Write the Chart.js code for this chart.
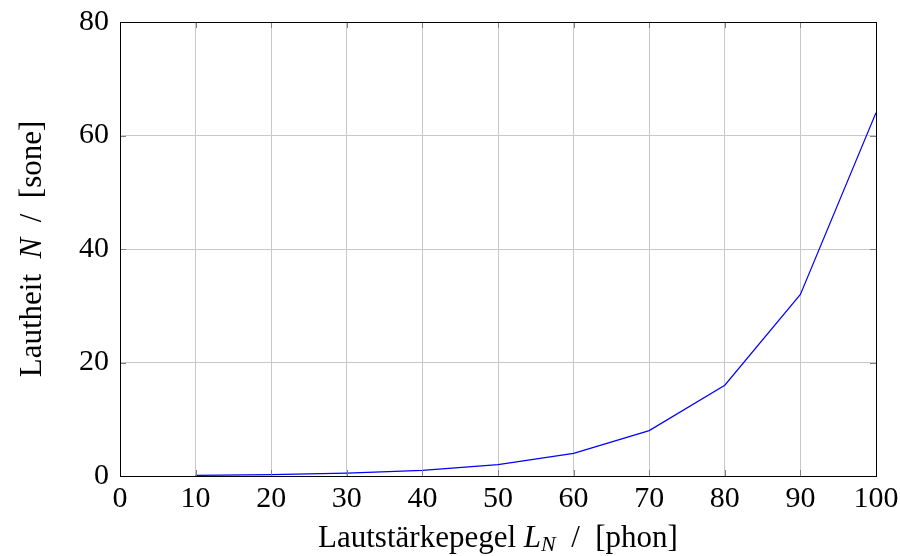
<!DOCTYPE html>
<html>
<head>
<meta charset="utf-8">
<script src="https://cdn.jsdelivr.net/npm/chart.js@4/dist/chart.umd.min.js"></script>
<style>
  html, body { margin: 0; padding: 0; background: #fff; }
  #wrap { width: 900px; height: 556px; }
</style>
</head>
<body>
<div id="wrap"><canvas id="lautheitChart" width="900" height="556"></canvas></div>
<script>
// Lautstärkepegel in phon und zugehörige Lautheit in sone
const phon = [10, 20, 30, 40, 50, 60, 70, 80, 90, 100];
const sone = [0.125, 0.25, 0.5, 1, 2, 4, 8, 16, 32, 64];
const xTicks = [0, 10, 20, 30, 40, 50, 60, 70, 80, 90, 100];
const yTicks = [0, 20, 40, 60, 80];

const FONT = '"Liberation Serif", "DejaVu Serif", serif';
const TITLE_SIZE = 31;

// Achsentitel mit kursiven Formelzeichen (N, L_N)
function drawParts(ctx, parts, x, y) {
    let total = 0;
    parts.forEach(p => {
        ctx.font = p.font;
        p.w = ctx.measureText(p.text).width;
        total += p.w;
    });
    let cx = x - total / 2;
    parts.forEach(p => {
        ctx.font = p.font;
        ctx.fillText(p.text, cx, y + (p.dy || 0));
        cx += p.w;
    });
}

const axisTitles = {
    id: 'axisTitles',
    afterDraw(chart) {
        const { ctx, chartArea } = chart;
        const f = TITLE_SIZE + 'px ' + FONT;
        const fi = 'italic ' + f;
        ctx.save();
        ctx.fillStyle = '#000';
        ctx.textBaseline = 'alphabetic';
        ctx.textAlign = 'left';
        const xMid = (chartArea.left + chartArea.right) / 2;
        drawParts(ctx, [
            { text: 'Lautstärkepegel ', font: f },
            { text: 'L', font: fi },
            { text: 'N', font: 'italic 22px ' + FONT, dy: 4 },
            { text: '  /  [phon]', font: f }
        ], xMid, 547);

        const yMid = (chartArea.top + chartArea.bottom) / 2;
        ctx.translate(41, yMid);
        ctx.rotate(-Math.PI / 2);
        drawParts(ctx, [
            { text: 'Lautheit  ', font: f },
            { text: 'N', font: fi },
            { text: '  /  [sone]', font: f }
        ], 0, 0);
        ctx.restore();
    }
};

// kurze Teilstriche nach innen, an allen vier Seiten
const innerTicks = {
    id: 'innerTicks',
    afterDatasetsDraw(chart) {
        const { ctx, chartArea, scales } = chart;
        const len = 6;
        ctx.save();
        ctx.strokeStyle = '#808080';
        ctx.lineWidth = 1;
        ctx.beginPath();
        xTicks.forEach(v => {
            const x = Math.round(scales.x.getPixelForValue(v)) + 0.5;
            ctx.moveTo(x, chartArea.bottom);
            ctx.lineTo(x, chartArea.bottom - len);
            ctx.moveTo(x, chartArea.top);
            ctx.lineTo(x, chartArea.top + len);
        });
        yTicks.forEach(v => {
            const y = Math.round(scales.y.getPixelForValue(v)) + 0.5;
            ctx.moveTo(chartArea.left, y);
            ctx.lineTo(chartArea.left + len, y);
            ctx.moveTo(chartArea.right, y);
            ctx.lineTo(chartArea.right - len, y);
        });
        ctx.stroke();
        ctx.strokeStyle = '#000';
        ctx.strokeRect(chartArea.left + 0.5, chartArea.top + 0.5,
            chartArea.right - chartArea.left, chartArea.bottom - chartArea.top);
        ctx.restore();
    }
};

const ctx = document.getElementById('lautheitChart').getContext('2d');

new Chart(ctx, {
    type: 'line',
    data: {
        datasets: [{
            data: phon.map((p, i) => ({ x: p, y: sone[i] })),
            borderColor: '#0000ff',
            borderWidth: 1.2,
            pointRadius: 0,
            fill: false,
            tension: 0
        }]
    },
    options: {
        responsive: false,
        animation: false,
        devicePixelRatio: 1,
        layout: { padding: { top: 22, right: 24, left: 0, bottom: 0 } },
        plugins: {
            legend: { display: false },
            tooltip: { enabled: false }
        },
        scales: {
            x: {
                type: 'linear',
                min: 0,
                max: 100,
                afterFit: s => {
                    s.height = 80;
                    s.paddingLeft = 0;
                    s.paddingRight = 0;
                },
                afterBuildTicks: s => { s.ticks = xTicks.map(v => ({ value: v })); },
                grid: { color: '#c8c8c8', lineWidth: 1, drawTicks: false },
                border: { display: false },
                ticks: {
                    padding: 5,
                    color: '#000',
                    font: { family: FONT, size: 30 },
                    maxRotation: 0
                }
            },
            y: {
                min: 0,
                max: 80,
                afterFit: s => {
                    s.width = 120;
                    s.paddingTop = 0;
                    s.paddingBottom = 0;
                },
                afterBuildTicks: s => { s.ticks = yTicks.map(v => ({ value: v })); },
                grid: { color: '#c8c8c8', lineWidth: 1, drawTicks: false },
                border: { display: false },
                ticks: {
                    padding: 11,
                    color: '#000',
                    font: { family: FONT, size: 30 }
                }
            }
        }
    },
    plugins: [axisTitles, innerTicks]
});
</script>
</body>
</html>
